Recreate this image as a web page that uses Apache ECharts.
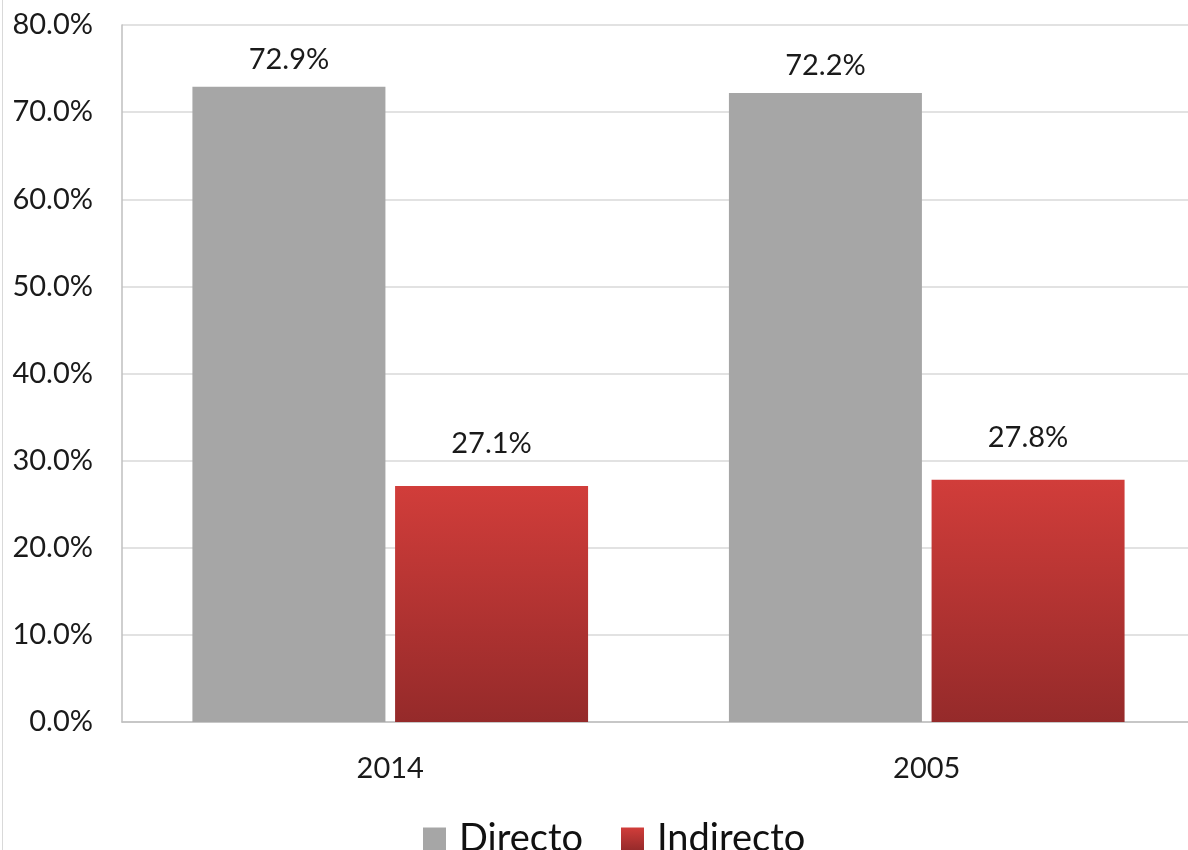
<!DOCTYPE html>
<html>
<head>
<meta charset="utf-8">
<script src="https://cdn.jsdelivr.net/npm/echarts@6/dist/echarts.min.js"></script>
<style>
html,body{margin:0;padding:0;background:#fff;overflow:hidden;width:1188px;height:850px;}
#chart{width:1200px;height:850px;}
</style>
</head>
<body>
<div id="chart"></div>
<script>
const categories = ['2014', '2005'];
const seriesNames = ['Directo', 'Indirecto'];
const directo = [72.9, 72.2];
const indirecto = [27.1, 27.8];
const yTicks = [0, 10, 20, 30, 40, 50, 60, 70, 80];

const FONT = 'Lato';
const chart = echarts.init(document.getElementById('chart'));
const redGrad = new echarts.graphic.LinearGradient(0, 0, 0, 1, [
  {offset: 0, color: '#d13d3a'},
  {offset: 1, color: '#952a2a'}
]);
const labelBase = {
  show: true, position: 'top',
  fontFamily: FONT, fontSize: 29, color: '#1a1a1a',
  formatter: p => p.value.toFixed(1) + '%'
};
chart.setOption({
  animation: false,
  backgroundColor: '#fff',
  textStyle: {fontFamily: FONT},
  graphic: [{
    type: 'line', shape: {x1: 2.5, y1: 0, x2: 2.5, y2: 850},
    style: {stroke: '#d9d9d9', lineWidth: 1}
  }],
  grid: {left: 122, top: 25, width: 1073, height: 697, containLabel: false},
  legend: {
    data: seriesNames, left: 418, top: 815,
    itemWidth: 23, itemHeight: 23, itemGap: 38,
    icon: 'rect',
    textStyle: {fontFamily: FONT, fontSize: 38, color: '#111', lineHeight: 32, padding: [0, 0, 0, 8]}
  },
  xAxis: {
    type: 'category', data: categories,
    axisLine: {lineStyle: {color: '#bfbfbf', width: 1.5}},
    axisTick: {show: false},
    axisLabel: {fontFamily: FONT, fontSize: 29, color: '#1a1a1a', margin: 32}
  },
  yAxis: {
    type: 'value', min: yTicks[0], max: yTicks[yTicks.length - 1], interval: 10,
    axisLine: {show: true, lineStyle: {color: '#bfbfbf', width: 1.5}},
    axisTick: {show: false},
    splitLine: {lineStyle: {color: '#d9d9d9', width: 1.5}},
    axisLabel: {fontFamily: FONT, fontSize: 29, color: '#1a1a1a', margin: 29,
      formatter: v => v.toFixed(1) + '%'}
  },
  series: [
    {name: seriesNames[0], type: 'bar', data: directo, barWidth: 193, barGap: '5%',
     itemStyle: {color: '#a6a6a6'}, label: Object.assign({}, labelBase, {distance: 13})},
    {name: seriesNames[1], type: 'bar', data: indirecto, barWidth: 193, barGap: '5%',
     itemStyle: {color: redGrad}, label: Object.assign({}, labelBase, {distance: 28})}
  ]
});
</script>
</body>
</html>
